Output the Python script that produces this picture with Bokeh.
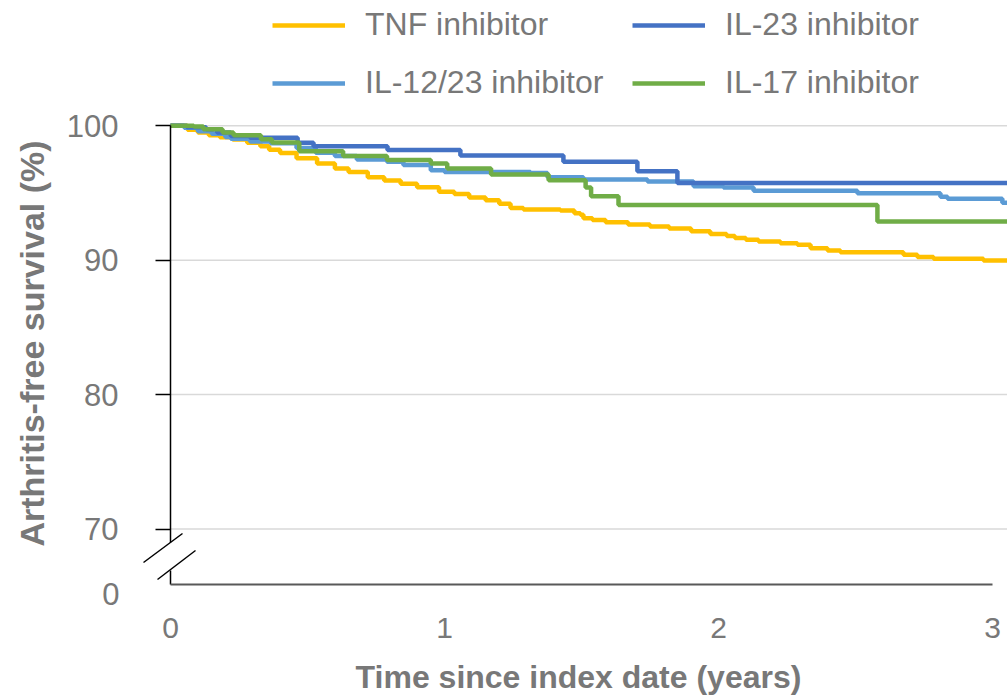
import math
from bokeh.plotting import figure
from bokeh.models import Range1d, FixedTicker, Legend, LegendItem
from bokeh.core.properties import value
from bokeh.embed import file_html
from bokeh.resources import INLINE

# ---------------- data ----------------
tnf_t = [0, 0.062, 0.10, 0.14, 0.18, 0.227, 0.28, 0.328, 0.36, 0.40, 0.46, 0.535, 0.60, 0.65, 0.72,
         0.78, 0.84, 0.90, 0.98, 1.036, 1.09, 1.15, 1.20, 1.241, 1.288, 1.423, 1.474, 1.496, 1.507, 1.54,
         1.588, 1.67, 1.75, 1.82, 1.90, 1.97, 2.03, 2.06, 2.10, 2.146, 2.226, 2.288, 2.336, 2.398, 2.445,
         2.675, 2.726, 2.785, 2.967]
tnf_s = [100, 99.7, 99.5, 99.3, 99.15, 98.98, 98.73, 98.47, 98.22, 97.97, 97.59, 97.2, 96.82, 96.56, 96.18,
         95.93, 95.68, 95.42, 95.09, 94.92, 94.66, 94.46, 94.2, 93.89, 93.77, 93.69, 93.5, 93.39, 93.13, 93.0,
         92.82, 92.65, 92.5, 92.35, 92.15, 91.95, 91.8, 91.65, 91.53, 91.4, 91.27, 91.15, 90.89, 90.72, 90.59,
         90.41, 90.23, 90.11, 89.98]

il23_t = [0, 0.06, 0.13, 0.17, 0.22, 0.29, 0.464, 0.522, 0.792, 1.058, 1.434, 1.704, 1.85]
il23_s = [100, 99.9, 99.75, 99.5, 99.25, 99.11, 98.73, 98.47, 98.2, 97.79, 97.33, 96.62, 95.74]

il1223_t = [0, 0.05, 0.10, 0.15, 0.20, 0.22, 0.29, 0.365, 0.46, 0.53, 0.60, 0.68, 0.79, 0.85, 0.95,
            1.0, 1.314, 1.376, 1.507, 1.741, 1.909, 2.018, 2.128, 2.507, 2.81, 2.836, 3.036]
il1223_s = [100, 99.85, 99.6, 99.4, 99.16, 99.04, 98.83, 98.7, 98.35, 98.0, 97.75, 97.5, 97.33, 97.08, 96.69,
            96.56, 96.49, 96.18, 96.0, 95.85, 95.5, 95.4, 95.17, 94.99, 94.73, 94.58, 94.27]

il17_t = [0, 0.085, 0.12, 0.19, 0.23, 0.33, 0.37, 0.47, 0.63, 0.79, 0.95, 1.01, 1.17, 1.38, 1.515,
          1.535, 1.635, 2.58]
il17_s = [100, 99.95, 99.75, 99.5, 99.3, 99.0, 98.75, 98.1, 97.76, 97.46, 97.2, 96.82, 96.37, 95.95, 95.4,
          94.75, 94.1, 92.88]

series_names = ["TNF inhibitor", "IL-23 inhibitor", "IL-12/23 inhibitor", "IL-17 inhibitor"]
x_ticks = [0, 1, 2, 3]
y_ticks = [70, 80, 90, 100]
y_zero_label = "0"
x_title = "Time since index date (years)"
y_title = "Arthritis-free survival (%)"

# ---------------- layout constants ----------------
PX_X = 274.0                    # pixels per year
X0_PX = 170.0                   # pixel of t = 0
Y_PX = 13.44                    # pixels per survival %
Y85_PX = 326.9                  # pixel of 85 %
W, H = 1007, 695


def dx(px):                     # pixel column -> data x
    return (px - X0_PX) / PX_X


def dy(py):                     # pixel row -> display y
    return 85 - (py - Y85_PX) / Y_PX


X_START, X_END = dx(0), dx(W)
Y_TOP, Y_BOT = dy(0), dy(H)
Y_FLOOR = dy(584)               # broken-axis floor where the x axis sits
TEXT = "#787878"
FONT = "Liberation Sans"

p = figure(width=W, height=H, output_backend="svg", toolbar_location=None,
           x_range=Range1d(X_START, X_END), y_range=Range1d(Y_BOT, Y_TOP),
           min_border_left=0, min_border_right=0, min_border_top=0, min_border_bottom=0)
p.outline_line_color = None
p.background_fill_color = "white"
p.border_fill_color = "white"
p.xgrid.visible = False
p.ygrid.visible = False

# horizontal gridlines (only across the plotting area)
p.segment(x0=[0] * len(y_ticks), x1=[X_END] * len(y_ticks), y0=y_ticks, y1=y_ticks,
          line_color="#D9D9D9", line_width=1.5)

# x axis, pinned at the broken-axis floor
xa = p.xaxis[0]
xa.fixed_location = Y_FLOOR
xa.ticker = FixedTicker(ticks=x_ticks)
xa.bounds = (0, 3)
xa.axis_line_color = "#595959"
xa.axis_line_width = 2
xa.major_tick_line_color = None
xa.minor_tick_line_color = None
xa.major_label_standoff = 27
xa.major_label_text_font = FONT
xa.major_label_text_font_size = "30px"
xa.major_label_text_color = TEXT

# y axis, pinned at t = 0
ya = p.yaxis[0]
ya.fixed_location = 0
ya.ticker = FixedTicker(ticks=y_ticks)
ya.bounds = (dy(542), 100)
ya.axis_line_color = "black"
ya.axis_line_width = 1.5
ya.major_tick_line_color = "black"
ya.major_tick_line_width = 1.5
ya.major_tick_out = 15
ya.major_tick_in = 0
ya.minor_tick_line_color = None
ya.major_label_standoff = 37
ya.major_label_text_font = FONT
ya.major_label_text_font_size = "31px"
ya.major_label_text_color = TEXT

# broken part of the y axis: stub below the break, two slashes, and the "0" label
p.segment(x0=[0, dx(143), dx(157)], y0=[dy(570), dy(562), dy(579)],
          x1=[0, dx(182), dx(195)], y1=[Y_FLOOR, dy(533), dy(550)],
          line_color="black", line_width=1.5)
p.text(x=[0], y=[dy(593)], text=[y_zero_label], x_offset=-51,
       text_align="right", text_baseline="middle", text_font=value(FONT),
       text_font_size=value("31px"), text_color=TEXT)

# axis titles
p.text(x=[dx(578)], y=[dy(676)], text=[x_title], text_align="center", text_baseline="middle",
       text_font=value(FONT), text_font_size=value("32px"), text_font_style="bold", text_color=TEXT)
p.text(x=[dx(31)], y=[dy(343)], text=[y_title], angle=math.pi / 2, text_align="center",
       text_baseline="middle", text_font=value(FONT), text_font_size=value("34px"),
       text_font_style="bold", text_color=TEXT)


# curves
def stepline(t, s, color):
    return p.step(t + [X_END + 0.05], s + [s[-1]], mode="after", line_color=color, line_width=4.5)


r_tnf = stepline(tnf_t, tnf_s, "#FFC000")
r_1223 = stepline(il1223_t, il1223_s, "#5B9BD5")
r_23 = stepline(il23_t, il23_s, "#4472C4")
r_17 = stepline(il17_t, il17_s, "#70AD47")

legend = Legend(items=[LegendItem(label=series_names[0], renderers=[r_tnf]),
                       LegendItem(label=series_names[1], renderers=[r_23]),
                       LegendItem(label=series_names[2], renderers=[r_1223]),
                       LegendItem(label=series_names[3], renderers=[r_17])],
                location=(272, H - 105), orientation="horizontal", ncols=2,
                glyph_width=73, glyph_height=20, label_standoff=20, label_width=254,
                label_height=45, spacing=13, padding=0, margin=0,
                border_line_color=None, background_fill_alpha=0,
                label_text_font=FONT, label_text_font_size="32px", label_text_color=TEXT)
p.add_layout(legend)

open("out.html", "w").write(file_html(p, INLINE))
